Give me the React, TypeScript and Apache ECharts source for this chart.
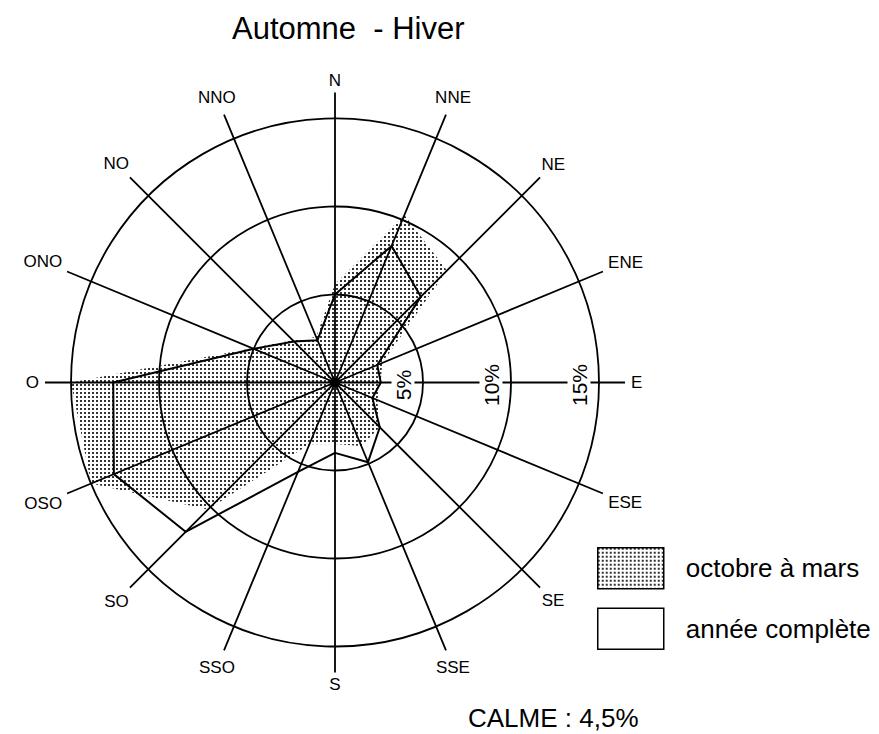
import React, { useEffect, useRef } from 'react';
import * as echarts from 'echarts';

// ---- data ----
const titleText = 'Automne  - Hiver';
const directions = ['N', 'NNE', 'NE', 'ENE', 'E', 'ESE', 'SE', 'SSE', 'S', 'SSO', 'SO', 'OSO', 'O', 'ONO', 'NO', 'NNO'];
const directionAngles = [0, 22.5, 45, 67.5, 90, 112.5, 135, 157.5, 180, 202.5, 225, 247.5, 270, 292.5, 315, 337.5];
const octobreMars = [5.6, 10.3, 9.0, 2.9, 2.6, 2.6, 3.6, 3.9, 3.5, 3.8, 10.2, 15.0, 15.0, 5.1, 3.4, 2.8];
const anneeComplete = [5.0, 8.4, 6.9, 2.6, 2.6, 2.3, 3.6, 4.9, 4.0, 5.5, 12.0, 13.6, 12.6, 5.0, 3.3, 2.6];
const radiusMax = 15;
const radiusInterval = 5;
const tickValues = [5, 10, 15];
const tickLabels = ['5%', '10%', '15%'];
const seriesNames = ['octobre à mars', 'année complète'];
const calmeText = 'CALME : 4,5%';

const FONT = '"Liberation Sans", Arial, Helvetica, sans-serif';
const CENTER = [335, 382.5];
const AXIS_RADIUS = 290;
const GRID_RADIUS = 264;

function closed(values: number[]) {
  const pts = values.map((v, i) => [v, directionAngles[i]]);
  pts.push([values[0], 360]);
  return pts;
}

function makePattern() {
  const c = document.createElement('canvas');
  c.width = 4;
  c.height = 4;
  const g = c.getContext('2d')!;
  g.fillStyle = '#333';
  g.fillRect(0, 0, 2, 2);
  return { image: c, repeat: 'repeat' };
}

export default function App() {
  const ref = useRef<HTMLDivElement>(null);

  useEffect(() => {
    const el = ref.current!;
    const chart = echarts.init(el, null, { renderer: 'svg' });
    const pattern = makePattern();

    const option: any = {
      animation: false,
      backgroundColor: '#fff',
      title: [
        {
          text: titleText,
          left: 232,
          top: 13,
          padding: 0,
          textStyle: { fontSize: 31, fontWeight: 'normal', color: '#000', fontFamily: FONT },
        },
        {
          text: calmeText,
          left: 468,
          top: 705,
          padding: 0,
          textStyle: { fontSize: 26, fontWeight: 'normal', color: '#000', fontFamily: FONT },
        },
      ],
      legend: {
        orient: 'vertical',
        left: 597,
        top: 547,
        padding: 0,
        itemWidth: 66,
        itemHeight: 41,
        itemGap: 18,
        selectedMode: false,
        formatter: (name: string) => `{a|${name}}`,
        textStyle: {
          color: '#000',
          fontSize: 26,
          fontFamily: FONT,
          rich: { a: { fontSize: 26, fontFamily: FONT, color: '#000', padding: [0, 0, 0, 17] } },
        },
        data: [
          { name: seriesNames[0], icon: 'rect', itemStyle: { color: pattern, borderColor: '#000', borderWidth: 1.5 } },
          { name: seriesNames[1], icon: 'rect', itemStyle: { color: '#fff', borderColor: '#000', borderWidth: 1.5 } },
        ],
      },
      polar: [
        { center: CENTER, radius: AXIS_RADIUS },
        { center: CENTER, radius: GRID_RADIUS },
      ],
      angleAxis: [
        {
          polarIndex: 0,
          type: 'category',
          data: directions,
          boundaryGap: false,
          startAngle: 90,
          clockwise: true,
          axisLine: { show: false },
          axisTick: { show: false },
          axisLabel: { show: false },
          splitArea: { show: false },
          splitLine: { show: true, lineStyle: { color: '#000', width: 1.8 } },
          z: 1,
        },
        {
          polarIndex: 1,
          type: 'value',
          min: 0,
          max: 360,
          startAngle: 90,
          clockwise: true,
          show: false,
        },
      ],
      radiusAxis: [
        { polarIndex: 0, type: 'value', min: 0, max: 1, show: false },
        {
          polarIndex: 1,
          type: 'value',
          min: 0,
          max: radiusMax,
          interval: radiusInterval,
          axisLine: { show: false },
          axisTick: { show: false },
          axisLabel: { show: false },
          splitArea: { show: false },
          splitLine: { show: true, lineStyle: { color: '#000', width: 1.8 } },
          z: 1,
        },
      ],
      series: [
        {
          name: seriesNames[0],
          type: 'line',
          coordinateSystem: 'polar',
          polarIndex: 1,
          data: closed(octobreMars),
          symbol: 'none',
          silent: true,
          clip: false,
          lineStyle: { width: 0, opacity: 0 },
          itemStyle: { color: '#000' },
          areaStyle: { color: pattern, opacity: 1 },
          z: 0,
        },
        {
          name: seriesNames[1],
          type: 'line',
          coordinateSystem: 'polar',
          polarIndex: 1,
          data: closed(anneeComplete),
          symbol: 'none',
          silent: true,
          clip: false,
          lineStyle: { color: '#000', width: 2 },
          itemStyle: { color: '#000' },
          z: 3,
        },
      ],
    };
    chart.setOption(option);

    // labels placed through the polar coordinate system
    const measure = document.createElement('canvas').getContext('2d')!;
    const dirFont = 17;
    measure.font = `${dirFont}px "Liberation Sans", Arial, sans-serif`;
    const c0 = chart.convertToPixel({ seriesIndex: 1 }, [0, 0]) as number[];
    const graphics: any[] = [];
    directions.forEach((d, i) => {
      const pe = chart.convertToPixel({ seriesIndex: 1 }, [radiusMax, directionAngles[i]]) as number[];
      const dx = pe[0] - c0[0];
      const dy = pe[1] - c0[1];
      const len = Math.sqrt(dx * dx + dy * dy);
      const ux = dx / len;
      const uy = dy / len;
      const w = measure.measureText(d).width;
      const h = dirFont * 0.72;
      const r = AXIS_RADIUS + 6 + (w / 2) * Math.abs(ux) + (h / 2) * Math.abs(uy);
      graphics.push({
        type: 'text',
        x: c0[0] + ux * r,
        y: c0[1] + uy * r,
        z: 50,
        style: {
          text: d,
          fontSize: dirFont,
          fontFamily: FONT,
          fill: '#000',
          align: 'center',
          verticalAlign: 'middle',
        },
      });
    });
    tickValues.forEach((v, i) => {
      const p = chart.convertToPixel({ seriesIndex: 1 }, [v, 90]) as number[];
      graphics.push({
        type: 'text',
        x: p[0] - 20,
        y: p[1] + 2.5,
        rotation: Math.PI / 2,
        z: 60,
        style: {
          text: tickLabels[i],
          fontSize: 21,
          fontFamily: FONT,
          fill: '#000',
          align: 'center',
          verticalAlign: 'middle',
          backgroundColor: '#fff',
          padding: [1, 1, 1, 1],
        },
      });
    });
    chart.setOption({ graphic: graphics });

    return () => chart.dispose();
  }, []);

  return (
    <div
      ref={ref}
      style={{ position: 'fixed', left: 0, top: 0, width: 879, height: 734, background: '#fff' }}
    />
  );
}
